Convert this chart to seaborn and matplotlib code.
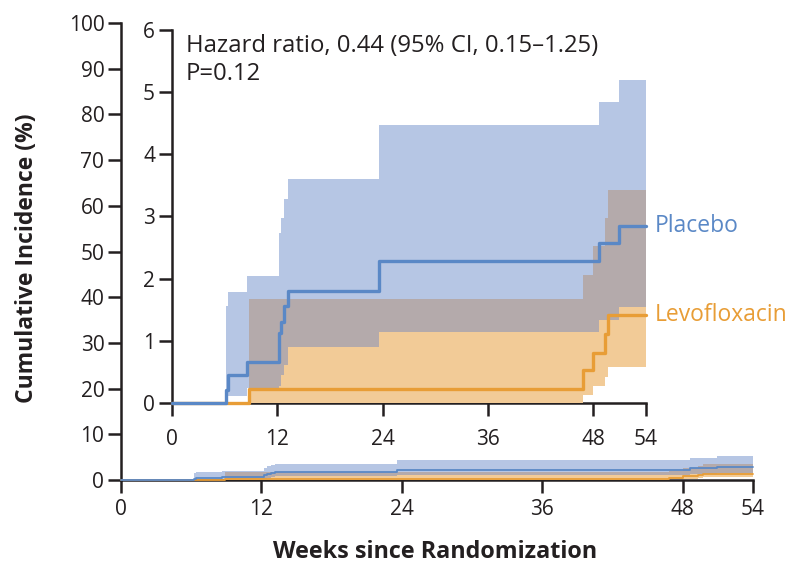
import numpy as np
import pandas as pd
import matplotlib
matplotlib.use("Agg")
import matplotlib.pyplot as plt
import seaborn as sns

# ---- data ----
placebo_weeks = [0, 6.2, 6.4, 8.6, 12.2, 12.45, 12.8, 13.2, 23.55, 48.65, 50.95, 54]
placebo_est = [0, 0.22, 0.46, 0.66, 1.13, 1.31, 1.56, 1.81, 2.28, 2.57, 2.85, 2.85]
placebo_upper = [0, 1.57, 1.78, 2.05, 2.73, 2.97, 3.28, 3.60, 4.47, 4.83, 5.19, 5.19]
placebo_lower = [0, 0.11, 0.11, 0.24, 0.27, 0.46, 0.62, 0.90, 1.15, 1.33, 1.55, 1.55]

levo_weeks = [0, 8.85, 46.8, 48.0, 49.3, 49.7, 54]
levo_est = [0, 0.23, 0.53, 0.81, 1.11, 1.42, 1.42]
levo_upper = [0, 1.67, 2.06, 2.52, 2.97, 3.43, 3.43]
levo_lower = [0, 0, 0.13, 0.27, 0.43, 0.59, 0.59]

x_ticks = [0, 12, 24, 36, 48, 54]
main_y_ticks = [0, 10, 20, 30, 40, 50, 60, 70, 80, 90, 100]
inset_y_ticks = [0, 1, 2, 3, 4, 5, 6]

series_names = ["Placebo", "Levofloxacin"]
annot_lines = ["Hazard ratio, 0.44 (95% CI, 0.15\u20131.25)", "P=0.12"]

# ---- style ----
BLUE_LINE = "#5a88c6"
BLUE_BAND = "#b6c6e4"
ORANGE_LINE = "#e89d36"
ORANGE_BAND = "#f2cb97"
GRAY_BAND = "#b4aaab"
TEXT = "#231f20"

sns.set_style("ticks")
plt.rcParams['font.family'] = ['Open Sans', 'DejaVu Sans']
plt.rcParams['axes.edgecolor'] = TEXT
plt.rcParams['xtick.color'] = TEXT
plt.rcParams['ytick.color'] = TEXT

W, H = 791, 566
fig = plt.figure(figsize=(W / 100, H / 100), dpi=100)

ax = fig.add_axes([121 / W, 1 - 480 / H, (753 - 121) / W, (480 - 23) / H])
axi = fig.add_axes([171.7 / W, 1 - 403.3 / H, (646 - 171.7) / W, (403.3 - 29.6) / H])
axi.set_facecolor("none")


def step_at(times, vals, grid):
    times = np.asarray(times)
    vals = np.asarray(vals)
    idx = np.searchsorted(times, grid, side="right") - 1
    return vals[np.clip(idx, 0, len(vals) - 1)]


def draw(a, lw):
    a.fill_between(placebo_weeks, placebo_lower, placebo_upper, step="post",
                   color=BLUE_BAND, lw=0, zorder=3, clip_on=False)
    a.fill_between(levo_weeks, levo_lower, levo_upper, step="post",
                   color=ORANGE_BAND, lw=0, zorder=3, clip_on=False)
    grid = np.union1d(placebo_weeks, levo_weeks)
    lo = np.maximum(step_at(placebo_weeks, placebo_lower, grid),
                    step_at(levo_weeks, levo_lower, grid))
    hi = np.minimum(step_at(placebo_weeks, placebo_upper, grid),
                    step_at(levo_weeks, levo_upper, grid))
    hi = np.maximum(hi, lo)
    a.fill_between(grid, lo, hi, step="post", color=GRAY_BAND, lw=0,
                   zorder=3, clip_on=False)
    dl = pd.DataFrame({"week": levo_weeks, "inc": levo_est})
    dp = pd.DataFrame({"week": placebo_weeks, "inc": placebo_est})
    sns.lineplot(data=dl, x="week", y="inc", ax=a, color=ORANGE_LINE, lw=lw,
                 drawstyle="steps-post", estimator=None, zorder=4, clip_on=False)
    sns.lineplot(data=dp, x="week", y="inc", ax=a, color=BLUE_LINE, lw=lw,
                 drawstyle="steps-post", estimator=None, zorder=5, clip_on=False)


draw(ax, 1.3)
draw(axi, 2.4)

for a, yt in ((ax, main_y_ticks), (axi, inset_y_ticks)):
    a.set_xlim(0, 54)
    a.set_ylim(yt[0], yt[-1])
    a.set_xticks(x_ticks)
    a.set_xticklabels([str(t) for t in x_ticks])
    a.set_yticks(yt)
    a.set_yticklabels([str(t) for t in yt])
    a.spines["top"].set_visible(False)
    a.spines["right"].set_visible(False)
    for s in ("left", "bottom"):
        a.spines[s].set_linewidth(1.8)
    a.tick_params(axis="both", direction="out", length=9.5, width=1.8,
                  labelsize=15, pad=2.5, labelcolor=TEXT)
    a.set_xlabel("")
    a.set_ylabel("")

ax.tick_params(axis="x", pad=4)
axi.tick_params(axis="x", pad=9)

axi.text(1.6, 5.74, annot_lines[0], fontsize=17.2, color=TEXT, va="center", ha="left")
axi.text(1.6, 5.29, annot_lines[1], fontsize=17.2, color=TEXT, va="center", ha="left")

axi.text(55.0, placebo_est[-1], series_names[0], fontsize=16.5, color=BLUE_LINE,
         va="center", ha="left", clip_on=False)
axi.text(55.0, levo_est[-1], series_names[1], fontsize=16.5, color=ORANGE_LINE,
         va="center", ha="left", clip_on=False)

fig.text(435 / W, 1 - 552 / H, "Weeks since Randomization", fontsize=16.8,
         fontweight="bold", color=TEXT, ha="center", va="center")
fig.text(27 / W, 1 - 258 / H, "Cumulative Incidence (%)", fontsize=16.5,
         fontweight="bold", color=TEXT, ha="center", va="center", rotation=90)

fig.savefig("out.png", dpi=100)
